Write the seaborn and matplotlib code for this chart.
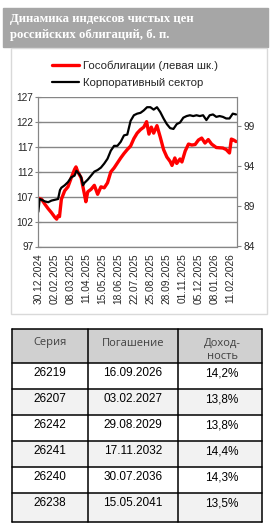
import matplotlib
matplotlib.use("Agg")
import pandas as pd
import matplotlib.pyplot as plt
import seaborn as sns
from matplotlib.patches import Rectangle

# Гособлигации (левая шкала)
gov_dates = ["30.12.2024", "06.01.2025", "13.01.2025", "20.01.2025", "27.01.2025", "03.02.2025",
             "07.02.2025", "10.02.2025", "13.02.2025", "17.02.2025", "24.02.2025", "03.03.2025",
             "10.03.2025", "17.03.2025", "20.03.2025", "24.03.2025", "31.03.2025", "07.04.2025",
             "10.04.2025", "14.04.2025", "21.04.2025", "28.04.2025", "05.05.2025", "12.05.2025",
             "19.05.2025", "26.05.2025", "02.06.2025", "09.06.2025", "16.06.2025", "23.06.2025",
             "30.06.2025", "07.07.2025", "14.07.2025", "21.07.2025", "28.07.2025", "04.08.2025",
             "11.08.2025", "17.08.2025", "22.08.2025", "27.08.2025", "01.09.2025", "08.09.2025",
             "15.09.2025", "22.09.2025", "29.09.2025", "06.10.2025", "10.10.2025", "16.10.2025",
             "20.10.2025", "27.10.2025", "31.10.2025", "07.11.2025", "14.11.2025", "21.11.2025",
             "28.11.2025", "05.12.2025", "12.12.2025", "19.12.2025", "26.12.2025", "02.01.2026",
             "12.01.2026", "26.01.2026", "02.02.2026", "09.02.2026", "13.02.2026", "18.02.2026",
             "23.02.2026"]
gov_values = [106.7, 106.5, 105.5, 104.6, 103.8, 102.9,
              102.5, 103.2, 103.0, 106.5, 108.2, 109.0,
              110.8, 112.5, 113.0, 112.0, 110.8, 107.5,
              106.0, 108.0, 108.5, 109.3, 107.5, 109.0,
              108.8, 109.8, 112.0, 112.8, 113.8, 114.8,
              115.7, 116.5, 117.2, 118.7, 119.8, 120.5,
              121.0, 122.1, 119.6, 121.0, 119.8, 121.3,
              119.0, 116.5, 115.0, 114.1, 113.3, 114.8,
              113.7, 114.6, 114.0, 116.2, 117.6, 117.4,
              117.5, 118.4, 118.8, 117.8, 118.5, 117.6,
              116.9, 116.8, 116.5, 115.8, 118.6, 118.4,
              118.1]

# Корпоративный сектор (правая шкала)
corp_dates = ["30.12.2024", "02.01.2025", "06.01.2025", "13.01.2025", "20.01.2025", "27.01.2025",
              "03.02.2025", "10.02.2025", "14.02.2025", "17.02.2025", "24.02.2025", "03.03.2025",
              "10.03.2025", "17.03.2025", "21.03.2025", "27.03.2025", "31.03.2025", "04.04.2025",
              "07.04.2025", "14.04.2025", "21.04.2025", "28.04.2025", "05.05.2025", "12.05.2025",
              "19.05.2025", "26.05.2025", "02.06.2025", "09.06.2025", "16.06.2025", "23.06.2025",
              "30.06.2025", "07.07.2025", "14.07.2025", "21.07.2025", "28.07.2025", "04.08.2025",
              "11.08.2025", "18.08.2025", "25.08.2025", "01.09.2025", "08.09.2025", "15.09.2025",
              "22.09.2025", "29.09.2025", "06.10.2025", "13.10.2025", "20.10.2025", "27.10.2025",
              "03.11.2025", "10.11.2025", "17.11.2025", "24.11.2025", "01.12.2025", "08.12.2025",
              "15.12.2025", "22.12.2025", "29.12.2025", "05.01.2026", "12.01.2026", "19.01.2026",
              "26.01.2026", "02.02.2026", "09.02.2026", "16.02.2026", "23.02.2026"]
corp_values = [88.3, 89.9, 89.8, 89.6, 89.5, 89.7,
               89.8, 89.9, 91.0, 91.3, 91.6, 92.0,
               92.6, 92.8, 93.4, 93.0, 92.6, 91.6,
               91.9, 92.3, 92.8, 93.3, 93.5, 93.8,
               94.3, 94.9, 95.9, 96.5, 96.5, 97.0,
               97.8, 97.9, 99.6, 100.3, 100.5, 100.6,
               100.9, 101.3, 101.3, 101.0, 101.3, 100.7,
               99.9, 99.2, 98.7, 98.6, 99.2, 99.4,
               100.0, 100.2, 100.3, 100.2, 100.3, 100.2,
               100.3, 99.7, 100.3, 100.4, 100.1, 100.2,
               100.1, 99.9, 99.9, 100.5, 100.4]

# таблица
tbl_header = ["Серия", "Погашение", "Доход-\nность"]
tbl_series = ["26219", "26207", "26242", "26241", "26240", "26238"]
tbl_maturity = ["16.09.2026", "03.02.2027", "29.08.2029", "17.11.2032", "30.07.2036", "15.05.2041"]
tbl_yield = ["14,2%", "13,8%", "13,8%", "14,4%", "14,3%", "13,5%"]

sns.set_style("white")
plt.rcParams["font.family"] = ["Liberation Sans", "DejaVu Sans"]

W, H = 276, 532
fig = plt.figure(figsize=(W / 100, H / 100), dpi=100)

# фон: заголовок, рамка графика, таблица
bg = fig.add_axes([0, 0, 1, 1])
bg.set_xlim(0, W)
bg.set_ylim(H, 0)
bg.axis("off")
bg.add_patch(Rectangle((3, 7.5), 265, 39, color="#a6a6a6"))
bg.add_patch(Rectangle((11, 48), 256, 266, fc="white", ec="#d9d9d9", lw=1))
bg.text(10, 19, "Динамика индексов чистых цен", color="white", fontsize=9.2,
        fontweight="bold", family="Liberation Serif", va="center")
bg.text(10, 35, "российских облигаций, б. п.", color="white", fontsize=9.2,
        fontweight="bold", family="Liberation Serif", va="center")

col_edges = [12, 88, 178, 262]
row_edges = [329, 363, 389, 415, 441, 467, 493, 522]
bg.add_patch(Rectangle((col_edges[0], row_edges[0]), col_edges[-1] - col_edges[0],
                       row_edges[1] - row_edges[0], fc="#d0d0d0", lw=0))
for i in range(len(tbl_series)):
    fc = "white" if i % 2 == 0 else "#f2f2f2"
    bg.add_patch(Rectangle((col_edges[0], row_edges[i + 1]), col_edges[-1] - col_edges[0],
                           row_edges[i + 2] - row_edges[i + 1], fc=fc, lw=0))
for y in row_edges:
    bg.plot([col_edges[0], col_edges[-1]], [y, y], color="black", lw=1.1)
for x in col_edges:
    bg.plot([x, x], [row_edges[0], row_edges[-1]], color="black", lw=1.1)

centers = [(col_edges[j] + col_edges[j + 1]) / 2 for j in range(3)]
for j, h in enumerate(tbl_header):
    hy = row_edges[0] + (14 if j < 2 else 21)
    bg.text(centers[j] + (2 if j == 2 else 0), hy, h, ha="center", va="center",
            fontsize=8, color="#404040", family="Open Sans", linespacing=1.35)
for i in range(len(tbl_series)):
    y = row_edges[i + 1] + 10
    for j, v in enumerate([tbl_series[i], tbl_maturity[i], tbl_yield[i]]):
        bg.text(centers[j] + (2 if j == 2 else 0), y, v, ha="center", va="center",
                fontsize=8.5, color="black")

# график
df_gov = pd.DataFrame({"date": pd.to_datetime(gov_dates, format="%d.%m.%Y"), "value": gov_values})
df_corp = pd.DataFrame({"date": pd.to_datetime(corp_dates, format="%d.%m.%Y"), "value": corp_values})

ax = fig.add_axes([38.3 / W, 1 - 246.5 / H, 198.7 / W, 149.2 / H])
sns.lineplot(data=df_gov, x="date", y="value", color="#ff0000", lw=2.4, ax=ax,
             label="Гособлигации (левая шк.)", legend=False)
ax2 = ax.twinx()
sns.lineplot(data=df_corp, x="date", y="value", color="black", lw=1.6, ax=ax2,
             label="Корпоративный сектор", legend=False)

start = pd.Timestamp("2024-12-30")
ax.set_xlim(start, start + pd.Timedelta(days=422))
ticks = pd.date_range(start, periods=13, freq="34D")
ax.set_xticks(ticks)
ax.set_xticklabels([t.strftime("%d.%m.%Y") for t in ticks], rotation=90, fontsize=7.3)
ax.set_ylim(97, 127)
ax.set_yticks(range(97, 128, 5))
ax.tick_params(axis="y", labelsize=7.3, direction="inout", length=5, color="#868686", pad=1)
ax.tick_params(axis="x", direction="out", length=3, color="#868686", pad=2)
ax2.set_ylim(84, 102.53)
ax2.set_yticks([84, 89, 94, 99])
ax2.tick_params(axis="y", labelsize=7.3, direction="out", length=3, color="#868686", pad=2)
ax.grid(axis="y", color="#868686", lw=1)
ax.set_xlabel("")
ax.set_ylabel("")
ax2.set_ylabel("")
for a in (ax, ax2):
    a.spines["top"].set_visible(False)
    for s in ("left", "right", "bottom"):
        a.spines[s].set_color("#868686")
ax2.patch.set_visible(False)

h1, l1 = ax.get_legend_handles_labels()
h2, l2 = ax2.get_legend_handles_labels()
fig.legend(h1 + h2, l1 + l2, loc="upper left", bbox_to_anchor=(52 / W, 1 - 61 / H),
           frameon=False, fontsize=8.2, handlelength=2.4, handletextpad=0.3,
           labelspacing=0.55, borderpad=0, borderaxespad=0)

fig.savefig("out.png", dpi=100)
